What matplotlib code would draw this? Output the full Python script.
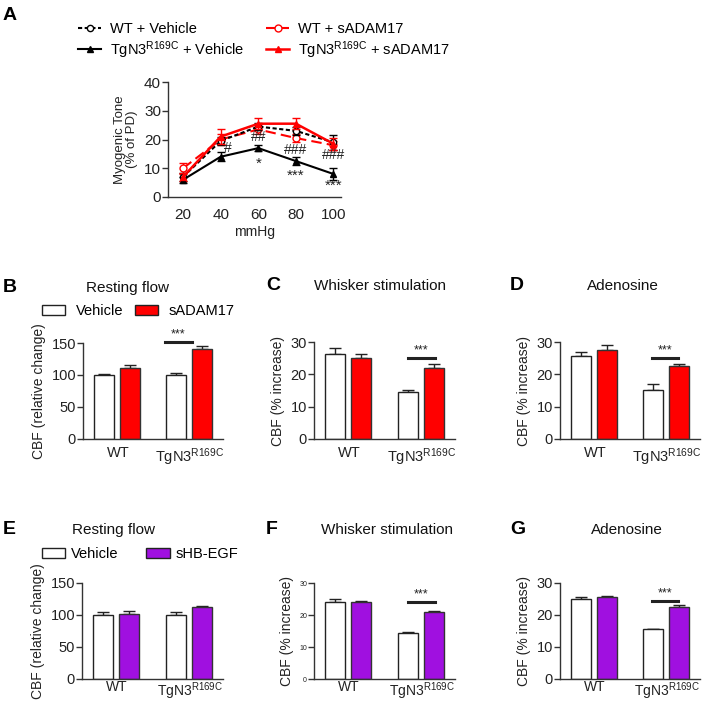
import matplotlib
matplotlib.use("Agg")
import matplotlib.pyplot as plt
from matplotlib.lines import Line2D
from matplotlib.patches import Patch
import numpy as np

plt.rcParams['font.family'] = ['Liberation Sans', 'DejaVu Sans']
plt.rcParams['mathtext.fontset'] = 'custom'
plt.rcParams['mathtext.rm'] = 'Liberation Sans'
plt.rcParams['mathtext.it'] = 'Liberation Sans:italic'
plt.rcParams['mathtext.bf'] = 'Liberation Sans:bold'

TG = r'TgN3$^{\mathregular{R169C}}$'

# ---------------- Panel A data ----------------
pressure = [20, 40, 60, 80, 100]
wt_veh = [7, 19.5, 24.5, 23, 19]
wt_veh_err = [1.5, 1.5, 1.2, 1.5, 2.5]
wt_sadam = [10, 20, 23.5, 20.5, 18]
wt_sadam_err = [2, 2, 1.5, 1.5, 1.5]
tg_veh = [6, 14, 17, 12.5, 8]
tg_veh_err = [1, 1.5, 1, 1.5, 2]
tg_sadam = [7, 21, 25.5, 25.5, 18.5]
tg_sadam_err = [1.5, 2.5, 2, 2, 2]
hash_marks = ['', '#', '##', '###', '###']
hash_y = [0, 17, 20.8, 16.5, 14.5]
star_marks = ['', '', '*', '***', '***']
star_y = [0, 0, 11.5, 7.5, 3.8]

# ---------------- Bar panels data ----------------
groups = ['WT', TG]
B_veh = [100, 100]; B_veh_err = [1, 3]
B_trt = [111, 140]; B_trt_err = [4, 6]
C_veh = [26.3, 14.5]; C_veh_err = [1.7, 0.8]
C_trt = [25.2, 22.0]; C_trt_err = [1.0, 1.3]
D_veh = [25.8, 15.3]; D_veh_err = [1.0, 1.6]
D_trt = [27.5, 22.5]; D_trt_err = [1.5, 0.7]
E_veh = [100, 100]; E_veh_err = [5, 5]
E_trt = [102, 112]; E_trt_err = [4, 2]
F_veh = [24.2, 14.3]; F_veh_err = [0.8, 0.5]
F_trt = [24.0, 21.0]; F_trt_err = [0.5, 0.3]
G_veh = [25.0, 15.5]; G_veh_err = [0.6, 0.2]
G_trt = [25.5, 22.5]; G_trt_err = [0.5, 0.5]

RED = '#ff0000'
PURPLE = '#a010e0'
W, H = 702, 701
fig = plt.figure(figsize=(W / 100, H / 100), dpi=100)


def ax_px(l, r, t, b):
    return fig.add_axes([l / W, 1 - b / H, (r - l) / W, (b - t) / H])


def style_ax(ax):
    for s in ['top', 'right']:
        ax.spines[s].set_visible(False)
    for s in ['left', 'bottom']:
        ax.spines[s].set_color('#333333')
        ax.spines[s].set_linewidth(1.0)
    ax.tick_params(axis='y', direction='out', length=4, width=1, color='#333333',
                   labelcolor='#222222', pad=1)


# ---------------- Panel A ----------------
axA = ax_px(168, 341, 82, 197)
style_ax(axA)
styles = {
    'wv': dict(color='black', ls=(0, (2, 1.2)), lw=1.5, marker='o', mfc='white', mec='black', ms=4.5),
    'ws': dict(color=RED, ls=(0, (5, 2.5)), lw=1.5, marker='o', mfc='white', mec=RED, ms=5),
    'tv': dict(color='black', ls='-', lw=1.5, marker='^', mfc='black', mec='black', ms=5),
    'ts': dict(color=RED, ls='-', lw=1.8, marker='^', mfc=RED, mec=RED, ms=5),
}
axA.errorbar(pressure, wt_veh, yerr=wt_veh_err, capsize=3, elinewidth=1, zorder=3, **styles['wv'])
axA.errorbar(pressure, wt_sadam, yerr=wt_sadam_err, capsize=3, elinewidth=1, zorder=2, **styles['ws'])
axA.errorbar(pressure, tg_veh, yerr=tg_veh_err, capsize=3, elinewidth=1, zorder=4, **styles['tv'])
axA.errorbar(pressure, tg_sadam, yerr=tg_sadam_err, capsize=3, elinewidth=1, zorder=4, **styles['ts'])
axA.set_xlim(12, 104)
axA.set_ylim(0, 40)
axA.set_yticks([0, 10, 20, 30, 40])
axA.set_xticks(pressure)
axA.tick_params(axis='x', length=0, pad=8, labelsize=11, labelcolor='#222222')
axA.tick_params(axis='y', labelsize=11)
axA.set_xlabel('mmHg', fontsize=10, labelpad=2, color='#222222')
axA.set_ylabel('Myogenic Tone\n(% of PD)', fontsize=9.5, labelpad=4, color='#222222',
               linespacing=1.0)
for x, h, s, hy, sy in zip(pressure, hash_marks, star_marks, hash_y, star_y):
    if h:
        dx = 4 if x == 40 else 0
        axA.text(x + dx, hy, h, ha='center', va='center', fontsize=10, color='#222222', zorder=6)
    if s:
        axA.text(x, sy, s, ha='center', va='center', fontsize=11, color='#222222', zorder=6)

handles = [Line2D([], [], **styles['wv']), Line2D([], [], **styles['tv']),
           Line2D([], [], **styles['ws']), Line2D([], [], **styles['ts'])]
labels = ['WT + Vehicle', TG + ' + Vehicle', 'WT + sADAM17', TG + ' + sADAM17']
fig.legend(handles, labels, loc='upper left', bbox_to_anchor=(78 / W, 1 - 22 / H), ncol=2,
           frameon=False, fontsize=10.5, handlelength=1.6, handletextpad=0.6,
           columnspacing=1.5, labelspacing=0.2, borderpad=0, borderaxespad=0)

fig.text(3 / W, 1 - 15 / H, 'A', fontsize=14, fontweight='bold', va='center', ha='left')

# ---------------- Bar panels ----------------
pos_veh = [1.05, 4.65]
pos_trt = [2.35, 5.95]
grp_pos = [1.75, 5.35]


def bar_panel(l, r, t, b, veh, veh_err, trt, trt_err, color, ymax, yticks, ylabel,
              sig=None, ticksize=10.5, xpad=4, xsize=10.5):
    ax = ax_px(l, r, t, b)
    style_ax(ax)
    ax.bar(pos_veh, veh, width=1.0, color='white', edgecolor='#222222', lw=1.0, zorder=2)
    ax.bar(pos_trt, trt, width=1.0, color=color, edgecolor='#333333', lw=1.0, zorder=2)
    ax.errorbar(pos_veh, veh, yerr=[np.zeros(2), veh_err], fmt='none', ecolor='#222222',
                elinewidth=1, capsize=4, capthick=1, zorder=1)
    ax.errorbar(pos_trt, trt, yerr=[np.zeros(2), trt_err], fmt='none', ecolor='#222222',
                elinewidth=1, capsize=4, capthick=1, zorder=1)
    ax.set_xlim(0, 7)
    ax.set_ylim(0, ymax)
    ax.set_yticks(yticks)
    ax.tick_params(axis='y', labelsize=ticksize)
    ax.set_xticks(grp_pos)
    ax.set_xticklabels(groups, fontsize=xsize, color='#222222')
    ax.tick_params(axis='x', length=0, pad=xpad)
    ax.set_ylabel(ylabel, fontsize=10, color='#222222', labelpad=4)
    if sig is not None:
        x0, x1, y = sig
        ax.plot([x0, x1], [y, y], color='#222222', lw=2.2, clip_on=False)
        ax.text((x0 + x1) / 2, y + ymax * 0.015, '***', ha='center', va='bottom',
                fontsize=9, color='#222222')
    return ax


def add_titles(lx, tx, ty, letter, title):
    fig.text(lx / W, 1 - ty / H, letter, fontsize=14, fontweight='bold', va='center', ha='left')
    fig.text(tx / W, 1 - ty / H, title, fontsize=11, va='center', ha='center', color='#111111')


# Row 1
bar_panel(83, 223, 343, 439, B_veh, B_veh_err, B_trt, B_trt_err, RED, 150,
          [0, 50, 100, 150], 'CBF (relative change)', sig=(4.1, 5.45, 151), xpad=5)
bar_panel(314, 455, 342, 439, C_veh, C_veh_err, C_trt, C_trt_err, RED, 30,
          [0, 10, 20, 30], 'CBF (% increase)', sig=(4.65, 6.0, 25.2), xpad=5)
bar_panel(560, 700, 342, 439, D_veh, D_veh_err, D_trt, D_trt_err, RED, 30,
          [0, 10, 20, 30], 'CBF (% increase)', sig=(4.6, 5.9, 25), xpad=5)
add_titles(3, 127, 288, 'B', 'Resting flow')
add_titles(266, 380, 286, 'C', 'Whisker stimulation')
add_titles(510, 623, 286, 'D', 'Adenosine')

# Row 2
bar_panel(82, 223, 583, 679, E_veh, E_veh_err, E_trt, E_trt_err, PURPLE, 150,
          [0, 50, 100, 150], 'CBF (relative change)', xpad=1, xsize=10)
bar_panel(314, 455, 583, 679, F_veh, F_veh_err, F_trt, F_trt_err, PURPLE, 30,
          [0, 10, 20, 30], 'CBF (% increase)', sig=(4.65, 6.0, 24), ticksize=5, xpad=1, xsize=10)
bar_panel(560, 700, 583, 679, G_veh, G_veh_err, G_trt, G_trt_err, PURPLE, 30,
          [0, 10, 20, 30], 'CBF (% increase)', sig=(4.6, 5.9, 24.5), xpad=1, xsize=10)
add_titles(3, 113, 530, 'E', 'Resting flow')
add_titles(266, 387, 530, 'F', 'Whisker stimulation')
add_titles(510, 627, 530, 'G', 'Adenosine')

# Legends for bar rows
for (y, color, lab, tpad, cspace) in [(311, RED, 'sADAM17', 0.7, 0.8),
                                      (554, PURPLE, 'sHB-EGF', 0.4, 1.9)]:
    hs = [Patch(facecolor='white', edgecolor='#222222', lw=1),
          Patch(facecolor=color, edgecolor='#222222', lw=1)]
    fig.legend(hs, ['Vehicle', lab], loc='center left', bbox_to_anchor=(42 / W, 1 - y / H),
               ncol=2, frameon=False, fontsize=10.5, handlelength=1.6, handleheight=0.75,
               handletextpad=tpad, columnspacing=cspace, borderpad=0, borderaxespad=0)

fig.savefig('out.png', dpi=100)
